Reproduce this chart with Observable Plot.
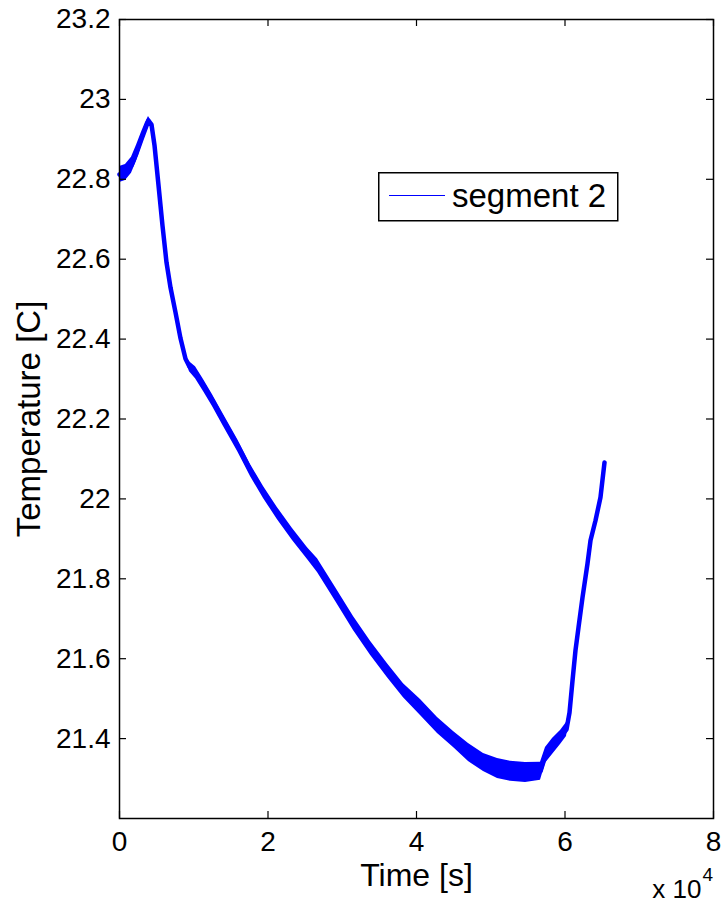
<!DOCTYPE html>
<html><head><meta charset="utf-8">
<script src="https://cdn.jsdelivr.net/npm/d3@7"></script>
<script src="https://cdn.jsdelivr.net/npm/@observablehq/plot@0.6"></script>
<style>
body{margin:0;background:#fff;}
#wrap{position:relative;width:727px;height:906px;font-family:"Liberation Sans",Arial,Helvetica,sans-serif;}
#legend{position:absolute;left:378px;top:172px;}
</style></head><body><div id="wrap"></div>
<script>
// time in seconds
const timeSec = [0,808,1616,2290,2963,3502,3906,4310,4714,5253,5791,6330,6869,7542,8216,8889,9428,10236,11313,12525,14007,15892,17643,19394,21279,23300,25320,26667,29091,31515,33805,36094,38249,40539,42828,44983,47003,49024,50909,52660,54680,56700,57374,58316,59394,60202,60606,61010,61414,61818,62357,63030,63434,64108,64781,65320];
// temperature (centre of the noisy trace), °C
const tempC = [22.812,22.817,22.835,22.865,22.900,22.927,22.947,22.937,22.885,22.785,22.684,22.592,22.529,22.467,22.402,22.351,22.331,22.316,22.284,22.246,22.196,22.134,22.071,22.016,21.963,21.911,21.863,21.833,21.761,21.688,21.626,21.570,21.520,21.478,21.433,21.398,21.365,21.340,21.325,21.318,21.315,21.318,21.358,21.380,21.403,21.423,21.465,21.545,21.621,21.678,21.753,21.838,21.896,21.946,22.004,22.091];
// full width of the noise band, °C
const spreadC = [0.04,0.04,0.04,0.04,0.035,0.03,0.02,0.015,0.01,0.01,0.01,0.01,0.01,0.01,0.01,0.01,0.025,0.03,0.03,0.03,0.03,0.03,0.03,0.03,0.03,0.03,0.03,0.035,0.035,0.035,0.035,0.035,0.035,0.04,0.04,0.04,0.045,0.045,0.05,0.05,0.05,0.045,0.04,0.04,0.035,0.035,0.015,0.01,0.01,0.01,0.01,0.01,0.01,0.01,0.01,0.01];
const xTicks = [0,20000,40000,60000,80000];
const yTicks = [21.4,21.6,21.8,22,22.2,22.4,22.6,22.8,23,23.2];
const seriesName = "segment 2";
const xLabel = "Time [s]";
const yLabel = "Temperature [C]";

const data = timeSec.map((t,i)=>({t, T: tempC[i], lo: tempC[i]-spreadC[i]/2, hi: tempC[i]+spreadC[i]/2}));

const W = 727, H = 906, mL = 119, mR = 14, mT = 19, mB = 88;
const innerH = H - mT - mB, innerW = W - mL - mR;
const tk = 7;
const blue = "#0000ff";

const chart = Plot.plot({
  width: W, height: H,
  marginLeft: mL, marginRight: mR, marginTop: mT, marginBottom: mB,
  style: {fontFamily: '"Liberation Sans", Arial, Helvetica, sans-serif', fontSize: "28px", color: "#000", background: "#fff", overflow: "visible"},
  x: {domain: [0, 80000]},
  y: {domain: [21.2, 23.2]},
  marks: [
    Plot.areaY(data, {x: "t", y1: "lo", y2: "hi", fill: blue, curve: "linear"}),
    Plot.line(data, {x: "t", y: "T", stroke: blue, strokeWidth: 4.5, strokeLinejoin: "round"}),
    Plot.frame({stroke: "#000", strokeWidth: 1.5}),
    Plot.tickX(xTicks, {x: d => d, insetTop: innerH - tk, stroke: "#000", strokeWidth: 1.2}),
    Plot.tickX(xTicks, {x: d => d, insetBottom: innerH - tk, stroke: "#000", strokeWidth: 1.2}),
    Plot.tickY(yTicks, {y: d => d, insetRight: innerW - tk, stroke: "#000", strokeWidth: 1.2}),
    Plot.tickY(yTicks, {y: d => d, insetLeft: innerW - tk, stroke: "#000", strokeWidth: 1.2}),
    Plot.axisX({ticks: xTicks, tickSize: 0, tickPadding: 13, tickFormat: d => String(d/1e4), label: null, fontSize: 28}),
    Plot.axisY({ticks: yTicks, tickSize: 0, tickPadding: 9, tickFormat: d => String(d), label: null, fontSize: 28}),
    Plot.text([xLabel], {frameAnchor: "bottom", lineAnchor: "bottom", dy: 67, fontSize: 32, fill: "#000"}),
    Plot.text([yLabel], {frameAnchor: "left", textAnchor: "middle", lineAnchor: "middle", rotate: -90, dx: -90, fontSize: 33, fill: "#000"}),
    Plot.text(["x 10"], {frameAnchor: "bottom-right", textAnchor: "end", lineAnchor: "bottom", dx: -12, dy: 79, fontSize: 26, fill: "#000"}),
    Plot.text(["4"], {frameAnchor: "bottom-right", textAnchor: "start", lineAnchor: "bottom", dx: -11, dy: 62, fontSize: 19, fill: "#000"})
  ]
});
const wrap = document.getElementById("wrap");
wrap.appendChild(chart);

// legend box
const lg = d3.select(wrap).append("svg").attr("id","legend").attr("width", 242).attr("height", 51);
lg.append("rect").attr("x",0.75).attr("y",0.75).attr("width",239).attr("height",48).attr("fill","#fff").attr("stroke","#000").attr("stroke-width",1.5);
lg.append("line").attr("x1",11).attr("x2",67).attr("y1",23.5).attr("y2",23.5).attr("stroke",blue).attr("stroke-width",1.2);
lg.append("text").attr("x",74).attr("y",35).attr("font-size",33).attr("font-family",'"Liberation Sans", Arial, sans-serif').attr("fill","#000").text(seriesName);
</script>
</body></html>
